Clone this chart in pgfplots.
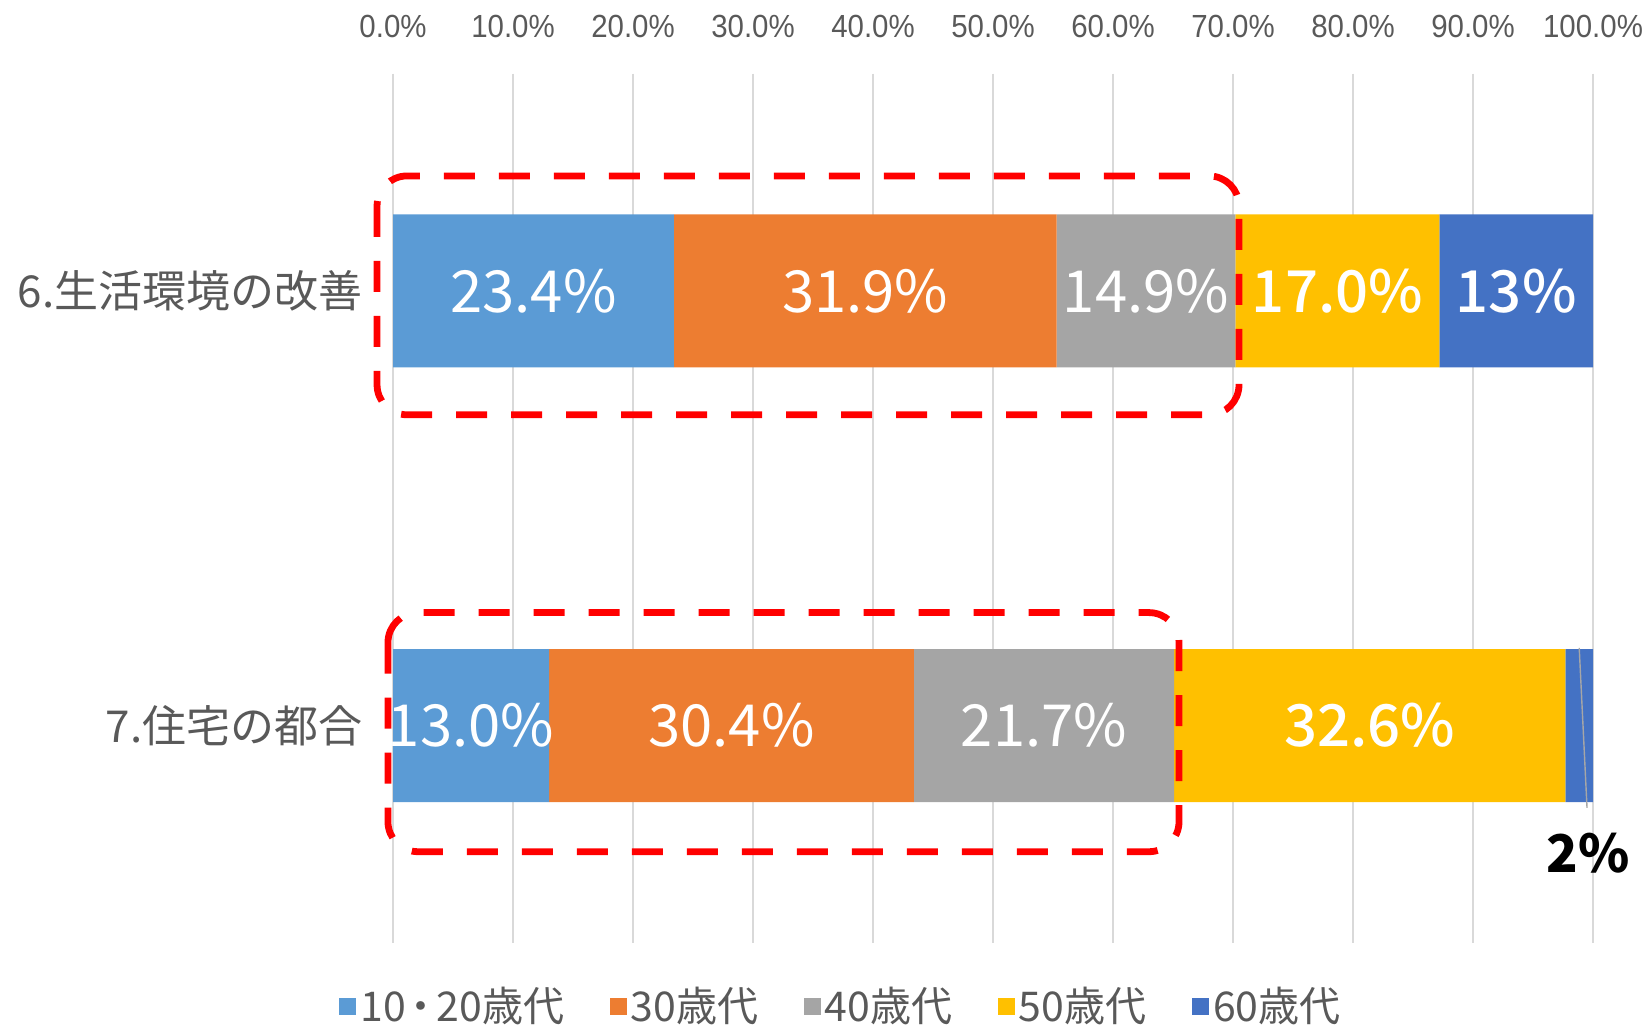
\documentclass[border=0pt]{standalone}
\usepackage{fontspec}
\setmainfont{Noto Sans CJK JP}
\newfontfamily\tickfont[FakeStretch=0.92]{Liberation Sans}
\IfFontExistsTF{Noto Sans CJK JP Medium}
  {\newfontfamily\medfont{Noto Sans CJK JP Medium}}
  {\newcommand\medfont{\bfseries}}
\usepackage{pgfplots}
\pgfplotsset{compat=1.18}
\definecolor{c1}{HTML}{5B9BD5}
\definecolor{c2}{HTML}{ED7D31}
\definecolor{c3}{HTML}{A5A5A5}
\definecolor{c4}{HTML}{FFC000}
\definecolor{c5}{HTML}{4472C4}
\definecolor{textgray}{HTML}{595959}
\definecolor{gridgray}{HTML}{D9D9D9}
\definecolor{leadgray}{HTML}{A6A6A6}
\tikzset{dl/.style={text=white, font=\fontsize{29pt}{29pt}\selectfont, inner sep=0pt},
  dlb/.style={text=white, font=\medfont\fontsize{29pt}{29pt}\selectfont, inner sep=0pt},
  hl/.style={red, line width=3.4pt, dash pattern=on 15.5pt off 12pt, rounded corners=15pt}}
\begin{document}
\begin{tikzpicture}
\path[use as bounding box] (0,0) rectangle (823.5pt,512.5pt);
\begin{axis}[
  at={(196.5pt,41pt)}, anchor=south west,
  scale only axis, width=600pt, height=434.75pt,
  xbar stacked, bar width=76.5pt,
  xmin=0, xmax=100, ymin=0.5, ymax=2.5, y dir=reverse,
  clip=false,
  axis line style={draw=none},
  major tick length=0pt,
  xtick={0,10,20,30,40,50,60,70,80,90,100},
  xticklabels={0.0\%,10.0\%,20.0\%,30.0\%,40.0\%,50.0\%,60.0\%,70.0\%,80.0\%,90.0\%,100.0\%},
  xticklabel pos=upper,
  xticklabel style={font=\tickfont\fontsize{16pt}{16pt}\selectfont, text=textgray, anchor=base, inner sep=0pt, yshift=18.25pt},
  ytick={1,2},
  yticklabels={6.生活環境の改善,7.住宅の都合},
  yticklabel style={font=\fontsize{22pt}{22pt}\selectfont, text=textgray, anchor=east, inner sep=0pt, xshift=-15pt},
  xmajorgrids, ymajorgrids=false,
  grid style={draw=gridgray, line width=1pt},
  legend columns=5,
  legend image code/.code={\fill[#1] (0pt,-4.25pt) rectangle (8.5pt,4.25pt);},
  legend style={at={(-0.045,-0.0725)}, anchor=west, draw=none, fill=none, inner sep=0pt,
    font=\fontsize{20.5pt}{20.5pt}\selectfont, text=textgray,
    nodes={inner sep=2pt},
    /tikz/every even column/.append style={column sep=20.8pt}},
]
\addplot[fill=c1, draw=none] coordinates {(23.4,1) (13.0,2)};
\addplot[fill=c2, draw=none] coordinates {(31.9,1) (30.4,2)};
\addplot[fill=c3, draw=none] coordinates {(14.9,1) (21.7,2)};
\addplot[fill=c4, draw=none] coordinates {(17.0,1) (32.6,2)};
\addplot[fill=c5, draw=none] coordinates {(12.8,1) (2.3,2)};
\legend{10\makebox[0.75em]{・}20歳代,30歳代,40歳代,50歳代,60歳代}
\coordinate (a1) at (axis cs:11.7,1);
\coordinate (a2) at (axis cs:39.35,1);
\coordinate (a3) at (axis cs:62.75,1);
\coordinate (a4) at (axis cs:78.7,1);
\coordinate (a5) at (axis cs:93.6,1);
\coordinate (b1) at (axis cs:6.5,2);
\coordinate (b2) at (axis cs:28.2,2);
\coordinate (b3) at (axis cs:54.25,2);
\coordinate (b4) at (axis cs:81.4,2);
\coordinate (la) at (axis cs:98.85,1.821);
\coordinate (lb) at (axis cs:99.5,2.189);
\coordinate (lc) at (axis cs:99.6,2.294);
\coordinate (r1a) at (axis cs:-1.33,0.7356);
\coordinate (r1b) at (axis cs:70.5,1.285);
\coordinate (r2a) at (axis cs:-0.42,1.740);
\coordinate (r2b) at (axis cs:65.5,2.290);
\end{axis}
\node[dl] at (a1) {23.4\%};
\node[dl] at (a2) {31.9\%};
\node[dl] at (a3) {14.9\%};
\node[dlb] at (a4) {17.0\%};
\node[dlb] at (a5) {13\%};
\node[dl] at (b1) {13.0\%};
\node[dl] at (b2) {30.4\%};
\node[dl] at (b3) {21.7\%};
\node[dlb] at (b4) {32.6\%};
\draw[leadgray, line width=0.7pt] (la) -- (lb);
\node[text=black, font=\fontsize{26pt}{26pt}\selectfont\bfseries, inner sep=0pt] at (lc) {2\%};
\draw[hl] (r1a) rectangle (r1b);
\draw[hl] (r2a) rectangle (r2b);
\end{tikzpicture}
\end{document}
